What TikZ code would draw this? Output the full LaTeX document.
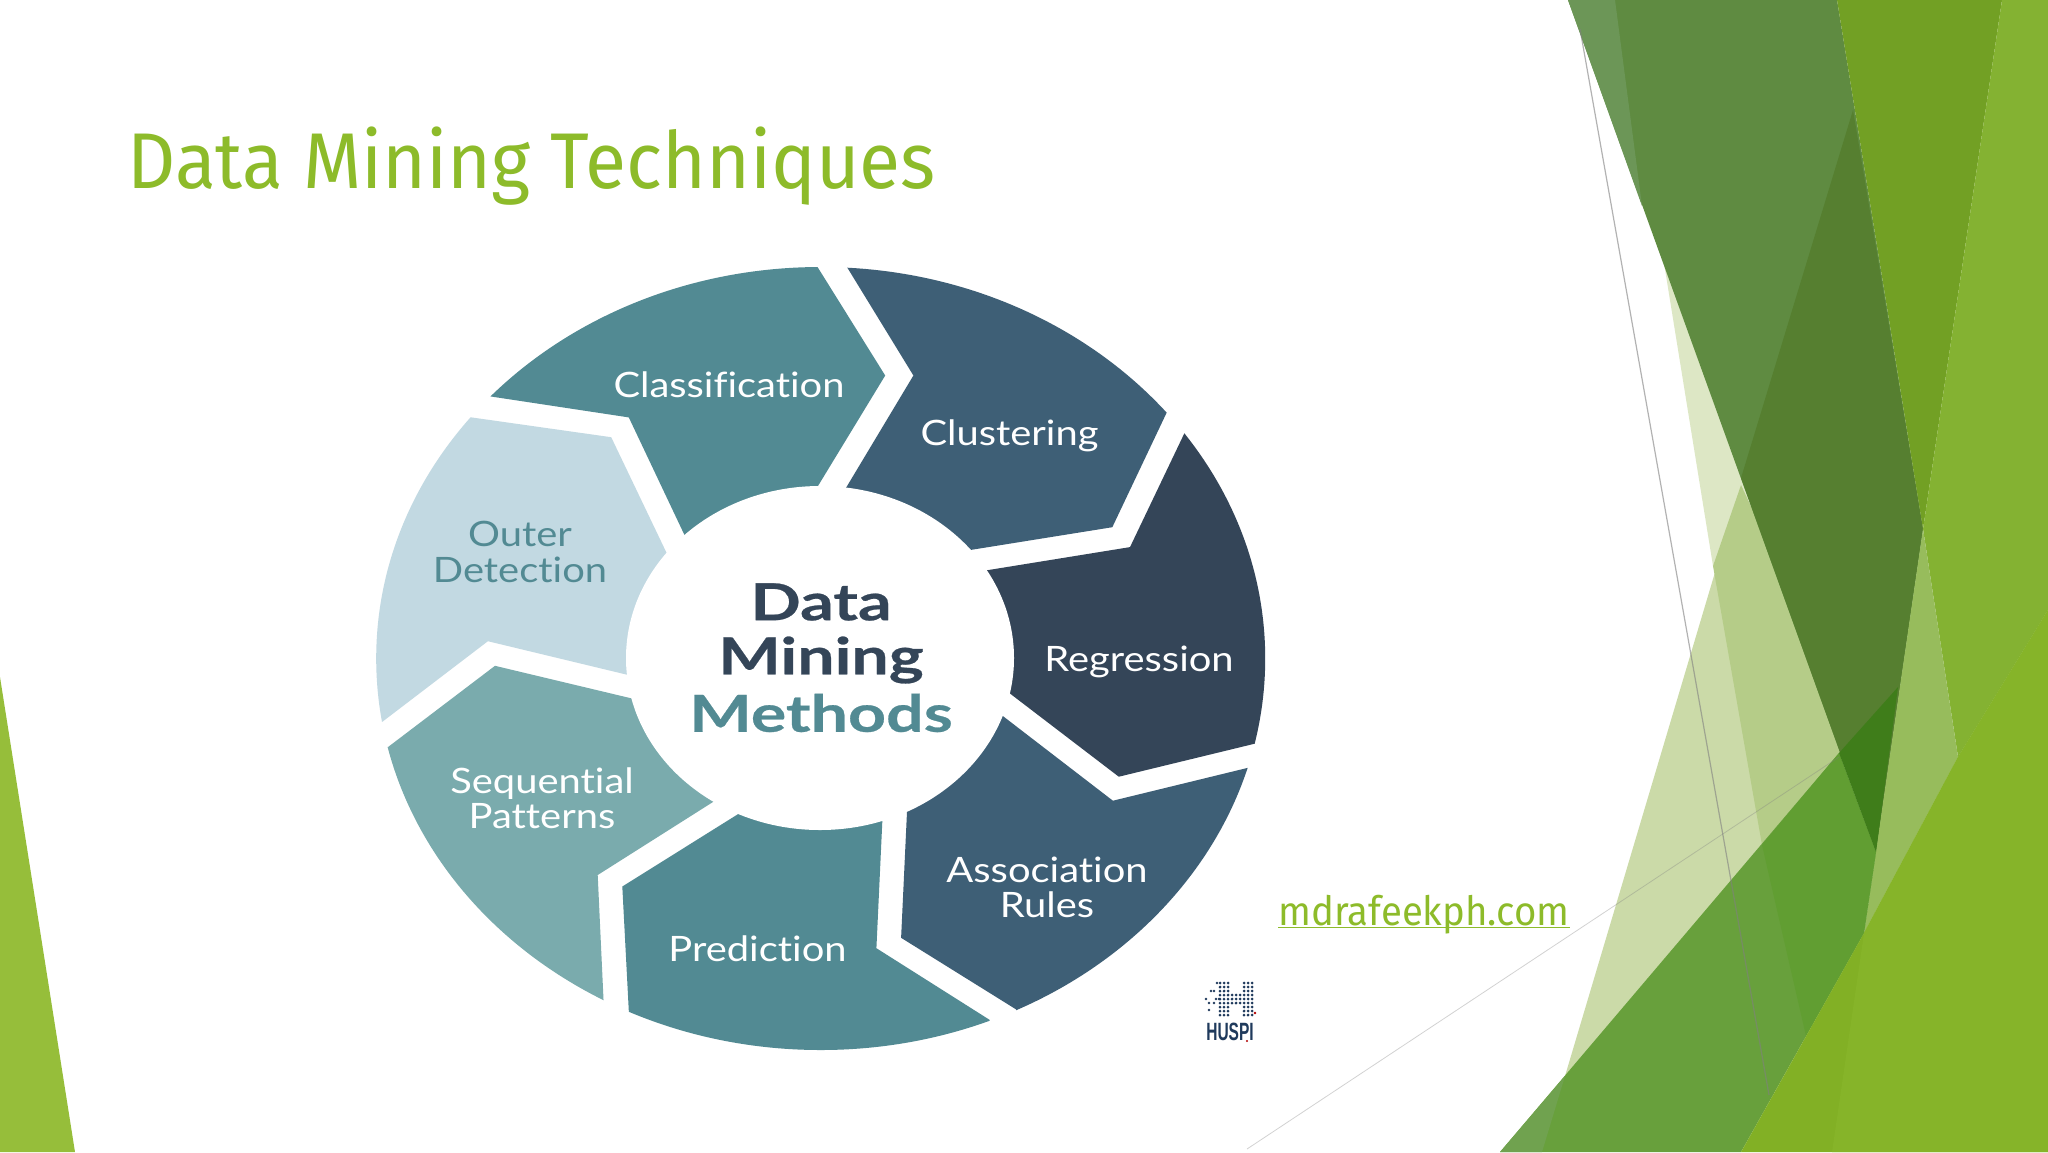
\documentclass[tikz,border=0pt]{standalone}
\usepackage{fontspec}
\setmainfont{Lato}
\newfontfamily\labelfont[FakeStretch=1.14,Ligatures=NoCommon]{Lato}
\newfontfamily\hubfont[FakeStretch=1.3,BoldFeatures={FakeBold=0.5}]{Lato}
\newfontfamily\titlefont[FakeStretch=0.95]{Fira Sans}
\newfontfamily\logofont[FakeStretch=0.62]{Liberation Sans}
\usepackage{tikz}
\definecolor{teal1}{HTML}{528A93}
\definecolor{teal2}{HTML}{7AABAD}
\definecolor{pale1}{HTML}{C2D9E2}
\definecolor{slate1}{HTML}{3E5F76}
\definecolor{slate2}{HTML}{344558}
\definecolor{lime1}{HTML}{8DBB2A}
\definecolor{navy1}{HTML}{1F3A5C}
\definecolor{wedge}{HTML}{96BE3A}
\definecolor{paleA}{HTML}{CBDAA8}
\definecolor{paleB}{HTML}{DDE7C5}
\definecolor{paleC}{HTML}{B5CC88}
\definecolor{forestA}{HTML}{5F8B41}
\definecolor{forestB}{HTML}{6C9657}
\definecolor{forestC}{HTML}{567F30}
\definecolor{grassA}{HTML}{72A024}
\definecolor{grassB}{HTML}{84B232}
\definecolor{grassC}{HTML}{97BC5C}
\definecolor{bandA}{HTML}{68A03C}
\definecolor{bandB}{HTML}{619E32}
\definecolor{bandC}{HTML}{70A24F}
\definecolor{bandD}{HTML}{3F7D1A}
\definecolor{floorA}{HTML}{82B025}
\definecolor{floorB}{HTML}{86B429}
\begin{document}
\begin{tikzpicture}[x=0.5pt,y=-0.5pt,
  seglabel/.style={font=\labelfont\fontsize{17.5}{17.6}\selectfont,text=white,align=center,inner sep=0pt},
  hubline/.style={font=\hubfont\bfseries\fontsize{25.5}{27}\selectfont,inner sep=0pt}]
\useasboundingbox (0,0) rectangle (2048,1152);
\fill[white] (0,0) rectangle (2048,1152);
% left wedge
\fill[wedge] (0,677) -- (75,1152) -- (0,1152) -- cycle;
% right side panels
\fill[paleA] (1741,485) -- (1860,740) -- (1565,1076) -- cycle;
\fill[paleB] (1663,257) -- (1760,478) -- (1713,566) -- cycle;
\fill[paleC] (1741,485) -- (1860,740) -- (1762,845) -- (1713,566) -- cycle;
\fill[forestA] (1568,0) -- (1837,0) -- (1923,529) -- (1876,852) -- cycle;
\fill[forestB] (1568,0) -- (1615,0) -- (1642,206) -- cycle;
\fill[forestC] (1853,110) -- (1923,529) -- (1876,852) -- (1741,478) -- cycle;
\fill[grassA] (1837,0) -- (2002,0) -- (1923,529) -- cycle;
\fill[grassB] (2002,0) -- (2048,0) -- (2048,610) -- (1958,757) -- (1923,529) -- cycle;
\fill[grassC] (1923,529) -- (1958,757) -- (1864,933) -- cycle;
\fill[bandA] (1500,1152) -- (1839,753) -- (1876,852) -- (1864,933) -- (1741,1152) -- cycle;
\fill[bandB] (1762,845) -- (1839,753) -- (1876,852) -- (1864,933) -- (1806,1036) -- cycle;
\fill[bandC] (1500,1152) -- (1565,1076) -- (1542,1152) -- cycle;
\fill[bandD] (1839,753) -- (1898,687) -- (1876,852) -- cycle;
\fill[floorA] (2048,610) -- (2048,1152) -- (1741,1152) -- (1864,933) -- (1958,757) -- cycle;
\fill[floorB] (1864,933) -- (1958,757) -- (2048,610) -- (2048,1152) -- (1832,1152) -- cycle;
% thin lines
\draw[gray,opacity=.6,line width=.6pt] (1580,29) -- (1769,1095);
\draw[gray,opacity=.35,line width=.4pt] (1247,1149) -- (1839,757);
% title and link
\node[font=\titlefont\fontsize{39.5}{40}\selectfont,text=lime1,anchor=base west,inner sep=0pt] (title) at (127,188) {Data Mining Techniques};
\node[font=\titlefont\fontsize{20.2}{20}\selectfont,text=lime1,anchor=base west,inner sep=0pt] (link) at (1278,925) {\underline{\smash{mdrafeekph.com}}};
% ring segments, cut by the outer ellipse
\begin{scope}
\clip (820.7,658.5) ellipse [x radius=444.5,y radius=391.5];
\fill[teal1] (628.8,417.4) -- (490.3,396.4) -- (490,200) -- (817.7,200) -- (817.7,267.3) -- (885.2,375.5) -- (790.7,530.8) -- (701.2,570.3) -- cycle;
\fill[slate1] (847.1,267.3) -- (847.1,200) -- (1300,200) -- (1300,412.1) -- (1166.9,412.1) -- (1112.3,527.2) -- (944,554.2) -- (818.9,533) -- (913.4,375.5) -- cycle;
\fill[slate2] (1184.5,433) -- (1184.5,380) -- (1350,380) -- (1350,743.2) -- (1256.7,743.2) -- (1118.8,776.7) -- (979.2,670) -- (959.5,574.7) -- (1130,547.1) -- cycle;
\fill[slate1] (1247.9,767.8) -- (1350,767.8) -- (1350,1100) -- (1016.1,1100) -- (1016.1,1009.4) -- (901.1,937.8) -- (908.8,773.2) -- (973.3,693.3) -- (1112.9,800.7) -- cycle;
\fill[teal1] (989.7,1019.9) -- (989.7,1100) -- (628.8,1100) -- (628.8,1011) -- (622.3,886.5) -- (773.4,792) -- (884.1,783) -- (876.4,948.2) -- cycle;
\fill[teal2] (603.5,999.5) -- (603.5,1100) -- (300,1100) -- (300,746.9) -- (388.2,746.9) -- (495,665.8) -- (660.5,705.3) -- (750.2,778.4) -- (597.7,875) -- cycle;
\fill[pale1] (382.3,721.8) -- (300,721.8) -- (300,417.4) -- (471.5,417.4) -- (611.2,437.2) -- (682.8,586.8) -- (654.8,681.4) -- (487.9,641.2) -- cycle;
\end{scope}
% hub
\fill[white] (820,658) ellipse [x radius=194,y radius=172];
\node[hubline,text=slate2] (hubA) at (821,602) {Data};
\node[hubline,text=slate2] (hubB) at (821,660) {Mining};
\node[hubline,text=teal1] (hubC) at (821,713) {Methods};
% labels
\node[seglabel] (classif) at (729,385) {Classification};
\node[seglabel] (cluster) at (1009.5,436) {Clustering};
\node[seglabel] (regress) at (1139,662) {Regression};
\node[seglabel] (assoc) at (1047,887) {Association\\Rules};
\node[seglabel] (predict) at (757.5,949) {Prediction};
\node[seglabel] (sequent) at (542,798) {Sequential\\Patterns};
\node[seglabel,text=teal1] (outer) at (520,552) {Outer\\Detection};
% logo
\foreach \i in {0,...,8}
  \foreach \j in {0,...,8} {
    \pgfmathtruncatemacro{\keep}{(\i<3||\i>5||(\j>2&&\j<6))?1:0}
    \ifnum\keep=1 \fill[navy1] (1220+4*\i,983+4*\j) circle (1.5); \fi
  }
\foreach \px/\py in {1217/983,1211/991,1214/991,1206/999,1209/1003,1214/1003,1216/999,1219/999,1209/1010}
  \fill[navy1] (\px,\py) circle (1.3);
\fill[red!70!black] (1255,1013) circle (1.3);
\fill[red!70!black] (1247,1041) circle (1.1);
\node[font=\logofont\bfseries\fontsize{12.5}{12.5}\selectfont,text=navy1,inner sep=0pt,anchor=base] (huspi) at (1230,1040) {HUSPI};
\end{tikzpicture}
\end{document}
